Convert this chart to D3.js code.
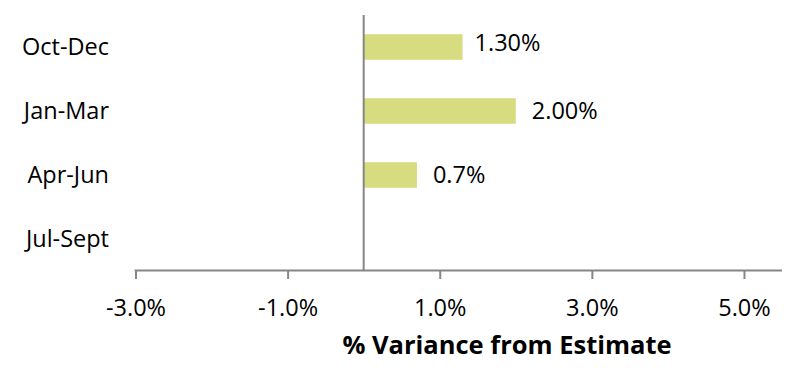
<!DOCTYPE html>
<html>
<head>
<meta charset="utf-8">
<script src="https://cdn.jsdelivr.net/npm/d3@7"></script>
<style>
  html, body { margin: 0; padding: 0; background: #fff; }
  svg { display: block; font-family: "Open Sans", Lato, sans-serif; }
</style>
</head>
<body>
<svg id="chart" width="792" height="368"></svg>
<script>
// Quarterly variance from estimate, in percent
const quarters = ["Oct-Dec", "Jan-Mar", "Apr-Jun", "Jul-Sept"];
const variance = [1.3, 2.0, 0.7, null];
const valueLabels = ["1.30%", "2.00%", "0.7%", ""];
const tickValues = [-3, -1, 1, 3, 5];
const axisTitle = "% Variance from Estimate";

const svg = d3.select("#chart");

const x = d3.scaleLinear().domain([-3, 5.5]).range([135.5, 782]);
const y = d3.scaleBand().domain(quarters).range([15, 271])
  .paddingInner(0.6).paddingOuter(0.3);

const axisColor = "#868686";
const barColor = "#d6dc7f";
const fontSize = 23.5;
const titleSize = 25.5;
// hand-placed offsets of the value labels from the bar ends
const labelDx = [12, 16, 16];
const labelDy = [4, 8, 8];

// Bars
const rows = quarters.map((q, i) => ({ q, v: variance[i], label: valueLabels[i], i }));
svg.append("g").selectAll("rect")
  .data(rows.filter(d => d.v != null))
  .join("rect")
  .attr("x", d => x(Math.min(0, d.v)))
  .attr("y", d => y(d.q))
  .attr("width", d => Math.abs(x(d.v) - x(0)))
  .attr("height", y.bandwidth())
  .attr("fill", barColor);

// Value labels
svg.append("g").selectAll("text")
  .data(rows.filter(d => d.v != null))
  .join("text")
  .attr("x", d => x(d.v) + labelDx[d.i])
  .attr("y", d => y(d.q) + y.bandwidth() / 2 + labelDy[d.i])
  .attr("font-size", fontSize)
  .attr("fill", "#000")
  .text(d => d.label);

// Horizontal axis
const xAxis = d3.axisBottom(x)
  .tickValues(tickValues)
  .tickSize(8.5)
  .tickSizeOuter(0)
  .tickFormat(d => d.toFixed(1) + "%");
const gx = svg.append("g").attr("transform", "translate(0,270.5)").call(xAxis);
gx.select(".domain").attr("stroke", axisColor).attr("stroke-width", 2)
  .attr("d", `M${x(-3)},0.5V0H${x(5.5)}`);
gx.selectAll(".tick line").attr("stroke", axisColor).attr("stroke-width", 2);
gx.selectAll(".tick text")
  .attr("y", 45.5).attr("dy", 0)
  .attr("font-size", fontSize).attr("fill", "#000")
  .attr("font-family", "'Open Sans', Lato, sans-serif");

// Vertical axis at zero
svg.append("line")
  .attr("x1", x(0)).attr("x2", x(0))
  .attr("y1", 15).attr("y2", 271)
  .attr("stroke", axisColor).attr("stroke-width", 2);

// Category labels
svg.append("g").selectAll("text")
  .data(quarters)
  .join("text")
  .attr("x", 109)
  .attr("y", d => y(d) + y.bandwidth() / 2 + 8)
  .attr("text-anchor", "end")
  .attr("font-size", fontSize)
  .attr("fill", "#000")
  .text(d => d);

// Axis title
svg.append("text")
  .attr("x", 507)
  .attr("y", 354)
  .attr("text-anchor", "middle")
  .attr("font-size", titleSize)
  .attr("font-weight", "bold")
  .attr("fill", "#000")
  .text(axisTitle);
</script>
</body>
</html>
